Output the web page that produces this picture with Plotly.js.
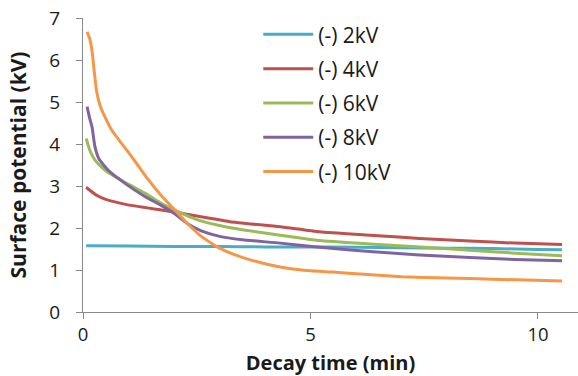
<!DOCTYPE html>
<html>
<head>
<meta charset="utf-8">
<script src="https://cdn.plot.ly/plotly-3.0.1.min.js"></script>
<style>
html,body{margin:0;padding:0;background:#fff;}
#chart{width:578px;height:376px;}
</style>
</head>
<body>
<div id="chart"></div>
<script>
var seriesNames = ["(-) 2kV", "(-) 4kV", "(-) 6kV", "(-) 8kV", "(-) 10kV"];
var seriesColors = ["#4bacc6", "#c0504d", "#9bbb59", "#8064a2", "#f79646"];

var t2 = [0.07, 1.0, 2.0, 3.0, 4.0, 5.0, 6.0, 7.0, 8.0, 9.0, 10.0, 10.53];
var v2 = [1.58, 1.57, 1.56, 1.56, 1.55, 1.55, 1.54, 1.53, 1.52, 1.51, 1.49, 1.48];

var t4 = [0.07, 0.15, 0.3, 0.5, 0.99, 1.72, 2.0, 2.75, 3.23, 4.33, 5.2, 6.3, 7.4, 8.5, 9.5, 10.53];
var v4 = [2.97, 2.9, 2.78, 2.68, 2.55, 2.43, 2.38, 2.24, 2.15, 2.03, 1.91, 1.83, 1.75, 1.69, 1.64, 1.61];

var t6 = [0.07, 0.15, 0.26, 0.48, 0.9, 1.36, 1.7, 2.09, 2.5, 3.0, 3.5, 4.33, 5.2, 6.3, 7.4, 8.5, 9.5, 10.53];
var v6 = [4.13, 3.85, 3.62, 3.38, 3.1, 2.83, 2.6, 2.39, 2.2, 2.06, 1.96, 1.83, 1.7, 1.62, 1.55, 1.47, 1.4, 1.34];

var t8 = [0.09, 0.15, 0.2, 0.26, 0.35, 0.55, 0.9, 1.36, 1.7, 2.0, 2.3, 2.6, 3.0, 3.5, 4.33, 5.2, 6.3, 7.4, 8.5, 9.5, 10.53];
var v8 = [4.89, 4.6, 4.4, 3.95, 3.65, 3.38, 3.08, 2.75, 2.55, 2.35, 2.1, 1.93, 1.8, 1.72, 1.64, 1.54, 1.44, 1.36, 1.3, 1.25, 1.22];

var t10 = [0.09, 0.15, 0.2, 0.25, 0.3, 0.38, 0.48, 0.62, 0.8, 1.0, 1.2, 1.4, 1.7, 2.0, 2.3, 2.6, 3.0, 3.5, 4.0, 4.5, 5.0, 5.5, 6.0, 7.0, 8.0, 9.0, 10.53];
var v10 = [6.67, 6.5, 6.2, 5.7, 5.25, 4.9, 4.65, 4.35, 4.08, 3.8, 3.5, 3.2, 2.8, 2.45, 2.1, 1.8, 1.52, 1.3, 1.15, 1.04, 0.98, 0.95, 0.91, 0.84, 0.81, 0.78, 0.74];

var tData = [t2, t4, t6, t8, t10];
var vData = [v2, v4, v6, v8, v10];

var traces = seriesNames.map(function(name, i) {
  return {
    x: tData[i], y: vData[i], name: name, type: "scatter", mode: "lines",
    line: {color: seriesColors[i], width: 3, shape: "spline", smoothing: 0.5},
    legendgroup: "g" + i
  };
});

var fontFam = "'Open Sans', 'Noto Sans', sans-serif";
var layout = {
  width: 578, height: 376,
  margin: {l: 83, r: 0, t: 18, b: 64},
  paper_bgcolor: "#fff", plot_bgcolor: "#fff",
  font: {family: fontFam, color: "#1a1a1a", size: 19},
  showlegend: true,
  legend: {
    x: 0.354, y: 1.013, xanchor: "left", yanchor: "top",
    font: {size: 21, color: "#1a1a1a"}, bgcolor: "rgba(0,0,0,0)",
    itemwidth: 50, tracegroupgap: 4
  },
  xaxis: {
    range: [0, 10.88], tickvals: [0, 5, 10], ticktext: ["0", "5", "10"],
    showgrid: false, zeroline: false, showline: true, linecolor: "#898989", linewidth: 1,
    ticks: "outside", ticklen: 6, tickcolor: "#898989",
    tickfont: {size: 18.5, color: "#1a1a1a"},
    title: {text: "<b>Decay time (min)</b>", font: {size: 20, color: "#1a1a1a"}, standoff: 10}
  },
  yaxis: {
    range: [0, 7], tickvals: [0, 1, 2, 3, 4, 5, 6, 7],
    showgrid: false, zeroline: false, showline: true, linecolor: "#898989", linewidth: 1,
    ticks: "outside", ticklen: 6, tickcolor: "#898989",
    ticklabelposition: "outside", ticklabelstandoff: 12,
    tickfont: {size: 19, color: "#1a1a1a"},
    title: {text: "<b>Surface potential (kV)</b>", font: {size: 21, color: "#1a1a1a"}, standoff: 16}
  }
};

Plotly.newPlot("chart", traces, layout, {displayModeBar: false, staticPlot: true});
</script>
</body>
</html>
